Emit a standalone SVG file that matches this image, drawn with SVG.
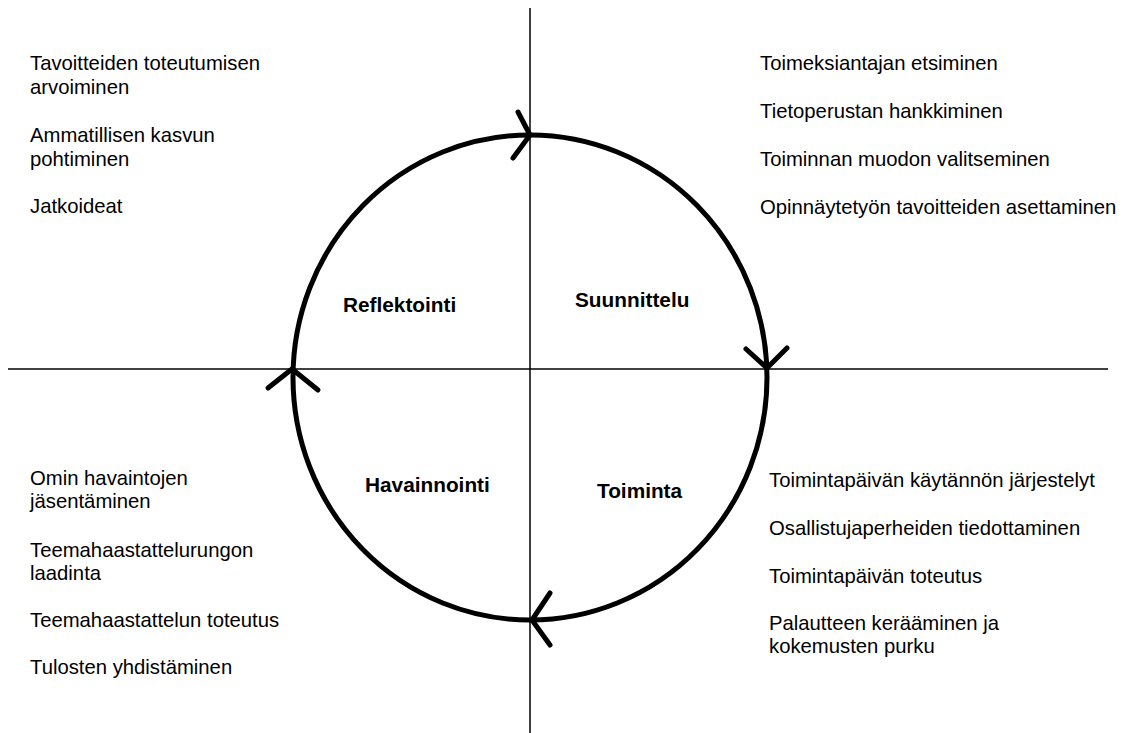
<svg xmlns="http://www.w3.org/2000/svg" width="1123" height="733" viewBox="0 0 1123 733">
<style>
.t{font-family:"Liberation Sans",Arial,sans-serif;font-size:20.3px;fill:#000}
.b{font-family:"Liberation Sans",Arial,sans-serif;font-size:20.8px;font-weight:bold;fill:#000}
.ax{stroke:#000;stroke-width:1.5;fill:none}
.cy{stroke:#000;stroke-width:5;fill:none}
.ah{stroke:#000;stroke-width:5;fill:none;stroke-linecap:round;stroke-linejoin:round}
</style>
<rect width="1123" height="733" fill="#fff"/>
<g id="axes">
<line class="ax" x1="530" y1="8" x2="530" y2="733"/>
<line class="ax" x1="8" y1="369" x2="1108" y2="369"/>
</g>
<g id="connectors">
<ellipse class="cy" cx="530" cy="377.5" rx="237" ry="242.5"/>
<polyline class="ah" points="518,112 530,135 513,158"/>
<polyline class="ah" points="746,349 767,368 787,348"/>
<polyline class="ah" points="550,593 532,620 550,645"/>
<polyline class="ah" points="268,388 292,369 318,390"/>
</g>
<g id="reflektointi">
<text class="b" x="343" y="312">Reflektointi</text>
<text class="t" x="30" y="70">Tavoitteiden toteutumisen</text>
<text class="t" x="30" y="94">arvoiminen</text>
<text class="t" x="30" y="142">Ammatillisen kasvun</text>
<text class="t" x="30" y="166">pohtiminen</text>
<text class="t" x="30" y="213">Jatkoideat</text>
</g>
<g id="suunnittelu">
<text class="b" x="575" y="307">Suunnittelu</text>
<text class="t" x="760" y="70">Toimeksiantajan etsiminen</text>
<text class="t" x="760" y="118">Tietoperustan hankkiminen</text>
<text class="t" x="760" y="166">Toiminnan muodon valitseminen</text>
<text class="t" x="760" y="214">Opinnäytetyön tavoitteiden asettaminen</text>
</g>
<g id="havainnointi">
<text class="b" x="365" y="492">Havainnointi</text>
<text class="t" x="30" y="485">Omin havaintojen</text>
<text class="t" x="30" y="508">jäsentäminen</text>
<text class="t" x="30" y="557">Teemahaastattelurungon</text>
<text class="t" x="30" y="580">laadinta</text>
<text class="t" x="30" y="627">Teemahaastattelun toteutus</text>
<text class="t" x="30" y="674">Tulosten yhdistäminen</text>
</g>
<g id="toiminta">
<text class="b" x="597" y="498">Toiminta</text>
<text class="t" x="769" y="487">Toimintapäivän käytännön järjestelyt</text>
<text class="t" x="769" y="535">Osallistujaperheiden tiedottaminen</text>
<text class="t" x="769" y="583">Toimintapäivän toteutus</text>
<text class="t" x="769" y="630">Palautteen kerääminen ja</text>
<text class="t" x="769" y="653">kokemusten purku</text>
</g>
</svg>
